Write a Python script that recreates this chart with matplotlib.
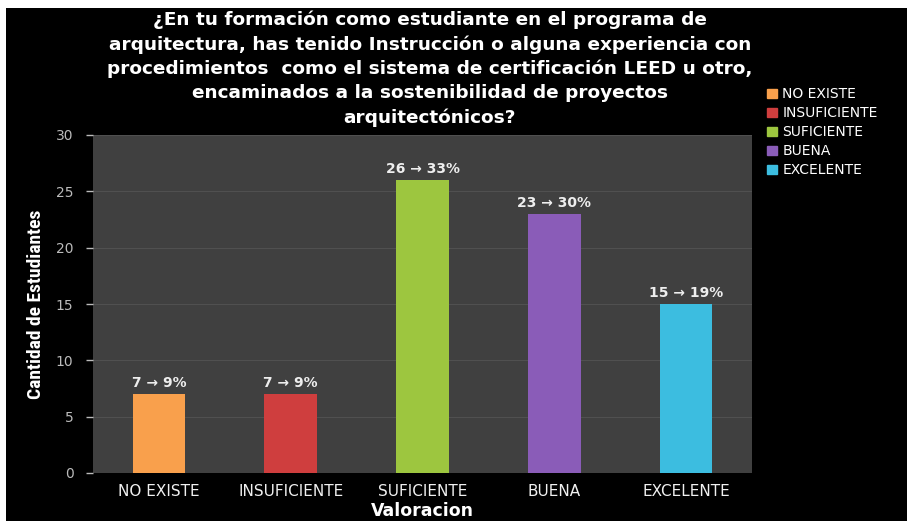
import matplotlib
matplotlib.use("Agg")
import matplotlib.pyplot as plt
from matplotlib.patches import Rectangle

categorias = ["NO EXISTE", "INSUFICIENTE", "SUFICIENTE", "BUENA", "EXCELENTE"]
cantidad = [7, 7, 26, 23, 15]
porcentaje = ["9%", "9%", "33%", "30%", "19%"]
colores = ["#F9A04C", "#CF3E3E", "#9DC63F", "#8A5CB8", "#3CBDE0"]

titulo = ("¿En tu formación como estudiante en el programa de\n"
          "arquitectura, has tenido Instrucción o alguna experiencia con\n"
          "procedimientos  como el sistema de certificación LEED u otro,\n"
          "encaminados a la sostenibilidad de proyectos\n"
          "arquitectónicos?")

plt.rcParams['font.family'] = ['DejaVu Sans']

fig = plt.figure(figsize=(9.07, 5.21), dpi=100, facecolor="white")
# fondo negro con pequeño borde blanco arriba/izquierda
fondo = Rectangle((6/907, 0), 1, 1 - 8/521, transform=fig.transFigure,
                  facecolor="black", edgecolor="none", zorder=-10)
fig.add_artist(fondo)

ax = fig.add_axes([93/907, 1 - 473/521, 659/907, 338/521])
ax.set_facecolor("#404040")

x = range(len(categorias))
barras = ax.bar(x, cantidad, width=0.4, color=colores, zorder=3)
for i, b in enumerate(barras):
    ax.text(b.get_x() + b.get_width()/2, b.get_height() + 0.35,
            f"{cantidad[i]} → {porcentaje[i]}", ha="center", va="bottom",
            color="#EEEEEE", fontsize=10, fontweight="bold")

ax.set_xlim(-0.5, 4.5)
ax.set_ylim(0, 30)
ax.set_yticks(range(0, 31, 5))
ax.set_xticks(list(x))
ax.set_xticklabels(categorias, color="#F0F0F0", fontsize=11)
ax.tick_params(axis="y", colors="#BBBBBB", labelsize=10, length=5, width=1, pad=9)
ax.tick_params(axis="x", length=0, pad=8)
ax.grid(axis="y", color="#505050", linewidth=0.8, zorder=0)
for s in ax.spines.values():
    s.set_visible(False)

ax.set_ylabel("Cantidad de Estudiantes", color="white", fontsize=14,
              fontweight="bold", labelpad=8,
              family=["Liberation Sans Narrow", "DejaVu Sans Condensed",
                      "Roboto Condensed", "Liberation Sans"])
ax.set_xlabel("Valoracion", color="white", fontsize=12.5, fontweight="bold", labelpad=2)

fig.text(0.474, 0.98, titulo, ha="center", va="top", color="white",
         fontsize=13.3, fontweight="bold", linespacing=1.42)

hs = [Rectangle((0, 0), 1, 1, color=c) for c in colores]
fig.legend(hs, categorias, loc="upper left", bbox_to_anchor=(0.832, 0.857),
           frameon=False, labelcolor="white", fontsize=10, handlelength=0.7,
           handleheight=0.6, handletextpad=0.4, labelspacing=0.36)

fig.savefig("out.png", dpi=100, facecolor="white")
